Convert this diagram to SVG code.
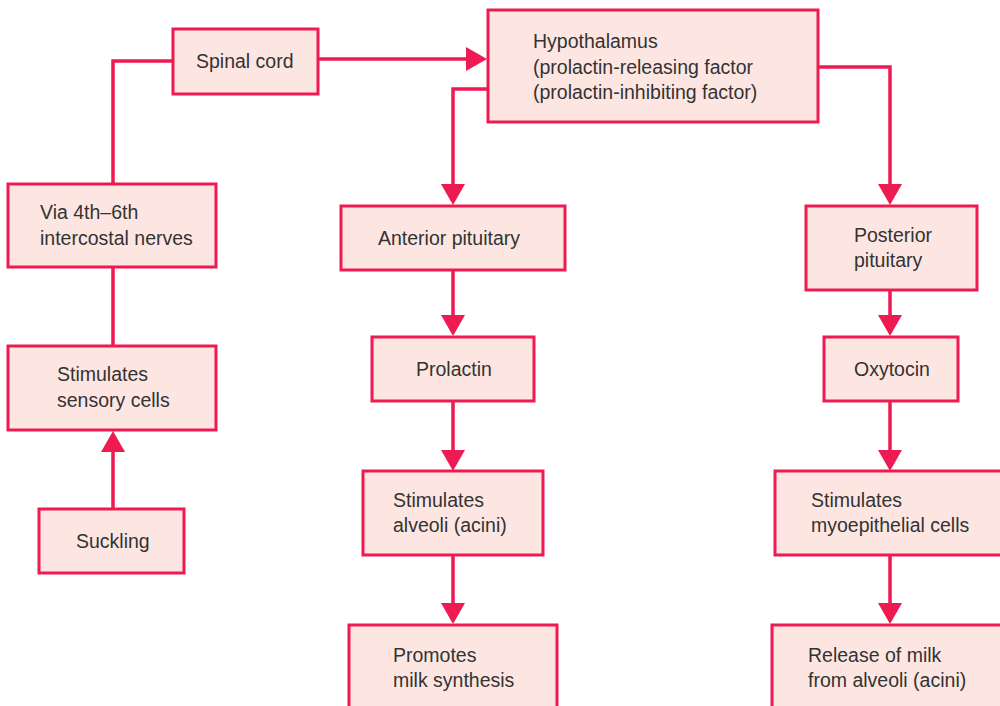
<svg xmlns="http://www.w3.org/2000/svg" width="1000" height="706" viewBox="0 0 1000 706">
  <style>
    .box { fill: #fde6e2; stroke: #ee1a52; stroke-width: 3; }
    .lbl { font-family: "Liberation Sans", Arial, sans-serif; font-size: 19.5px; fill: #333333; }
    .wire { fill: none; stroke: #ee1a52; stroke-width: 3.5; }
    .arrow { marker-end: url(#head); }
  </style>
  <defs>
    <marker id="head" markerUnits="userSpaceOnUse" viewBox="0 0 21 24" markerWidth="21" markerHeight="24" refX="0" refY="12" orient="auto">
      <path d="M0,0 L21,12 L0,24 Z" fill="#ee1a52"/>
    </marker>
  </defs>
  <rect width="1000" height="706" fill="#ffffff"/>

  <g id="connectors">
    <path class="wire" d="M173,61 H113 V184"/>
    <path class="wire" d="M113,267 V346"/>
    <path class="wire arrow" d="M113,509 V452"/>
    <path class="wire arrow" d="M318,59 H466"/>
    <path class="wire arrow" d="M488,89 H453 V184"/>
    <path class="wire arrow" d="M818,67 H890 V184"/>
    <path class="wire arrow" d="M453,270 V315"/>
    <path class="wire arrow" d="M453,401 V450"/>
    <path class="wire arrow" d="M453,555 V603"/>
    <path class="wire arrow" d="M890,290 V315"/>
    <path class="wire arrow" d="M890,401 V450"/>
    <path class="wire arrow" d="M890,555 V603"/>
  </g>

  <g id="spinal-cord">
    <rect class="box" x="173" y="29" width="145" height="65"/>
    <text class="lbl" x="196" y="68">Spinal cord</text>
  </g>
  <g id="hypothalamus">
    <rect class="box" x="488" y="10" width="330" height="112"/>
    <text class="lbl" x="533" y="48">Hypothalamus</text>
    <text class="lbl" x="533" y="74">(prolactin-releasing factor</text>
    <text class="lbl" x="533" y="99">(prolactin-inhibiting factor)</text>
  </g>
  <g id="intercostal">
    <rect class="box" x="8" y="184" width="208" height="83"/>
    <text class="lbl" x="40" y="219">Via 4th–6th</text>
    <text class="lbl" x="40" y="245">intercostal nerves</text>
  </g>
  <g id="sensory">
    <rect class="box" x="8" y="346" width="208" height="84"/>
    <text class="lbl" x="57" y="381">Stimulates</text>
    <text class="lbl" x="57" y="407">sensory cells</text>
  </g>
  <g id="suckling">
    <rect class="box" x="39" y="509" width="145" height="64"/>
    <text class="lbl" x="76" y="548">Suckling</text>
  </g>
  <g id="anterior-pituitary">
    <rect class="box" x="341" y="206" width="224" height="64"/>
    <text class="lbl" x="378" y="245">Anterior pituitary</text>
  </g>
  <g id="prolactin">
    <rect class="box" x="372" y="337" width="162" height="64"/>
    <text class="lbl" x="416" y="376">Prolactin</text>
  </g>
  <g id="alveoli">
    <rect class="box" x="363" y="471" width="180" height="84"/>
    <text class="lbl" x="393" y="507">Stimulates</text>
    <text class="lbl" x="393" y="532">alveoli (acini)</text>
  </g>
  <g id="milk-synthesis">
    <rect class="box" x="349" y="625" width="208" height="100"/>
    <text class="lbl" x="393" y="662">Promotes</text>
    <text class="lbl" x="393" y="687">milk synthesis</text>
  </g>
  <g id="posterior-pituitary">
    <rect class="box" x="806" y="206" width="171" height="84"/>
    <text class="lbl" x="854" y="242">Posterior</text>
    <text class="lbl" x="854" y="267">pituitary</text>
  </g>
  <g id="oxytocin">
    <rect class="box" x="824" y="337" width="134" height="64"/>
    <text class="lbl" x="854" y="376">Oxytocin</text>
  </g>
  <g id="myoepithelial">
    <rect class="box" x="775" y="471" width="240" height="84"/>
    <text class="lbl" x="811" y="507">Stimulates</text>
    <text class="lbl" x="811" y="532">myoepithelial cells</text>
  </g>
  <g id="milk-release">
    <rect class="box" x="772" y="625" width="240" height="100"/>
    <text class="lbl" x="808" y="662">Release of milk</text>
    <text class="lbl" x="808" y="687">from alveoli (acini)</text>
  </g>
</svg>
